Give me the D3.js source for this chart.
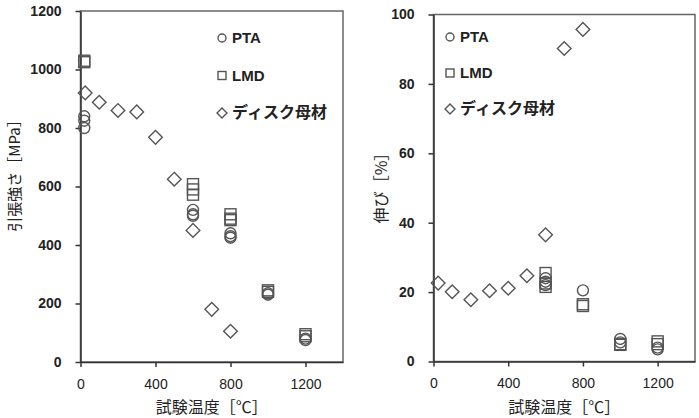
<!DOCTYPE html>
<html>
<head>
<meta charset="utf-8">
<script src="https://cdn.jsdelivr.net/npm/d3@7"></script>
<style>
  body { margin: 0; background: #fff; }
  .tick text { font-family: "Liberation Sans", Arial, sans-serif; fill: #222; }
  .label { font-family: "Noto Sans CJK JP", sans-serif; fill: #222; }
</style>
</head>
<body>
<script>
const width = 699;
const height = 418;

const xTicks = [0, 400, 800, 1200];
const strengthTicks = [0, 200, 400, 600, 800, 1000, 1200];
const elongTicks = [0, 20, 40, 60, 80, 100];

const seriesNames = ["PTA", "LMD", "ディスク母材"];

// 引張強さ [MPa]
const ptaStrength = [[20, 840], [20, 825], [20, 800], [600, 520], [600, 505], [600, 500],
  [800, 440], [800, 430], [800, 425], [1000, 235], [1000, 230], [1200, 80], [1200, 75]];
const lmdStrength = [[20, 1030], [20, 1025], [600, 608], [600, 590], [600, 572],
  [800, 505], [800, 490], [800, 485], [1000, 245], [1000, 240], [1200, 95], [1200, 88]];
const diskStrength = [[25, 920], [100, 888], [200, 860], [300, 855], [400, 768],
  [500, 625], [600, 450], [700, 180], [800, 105]];

// 伸び [%]
const ptaElong = [[600, 24], [600, 23], [600, 22], [800, 20.5], [1000, 6.5], [1000, 5.5],
  [1200, 4], [1200, 3.5]];
const lmdElong = [[600, 25.5], [600, 22.5], [600, 21.5], [800, 16.5], [800, 16],
  [1000, 5], [1000, 4.8], [1200, 5.8], [1200, 5]];
const diskElong = [[25, 22.6], [100, 20.1], [200, 17.8], [300, 20.4], [400, 21.1],
  [500, 24.7], [600, 36.5], [700, 90.2], [800, 95.7]];

const svg = d3.select("body").append("svg")
  .attr("width", width)
  .attr("height", height);

const markerStroke = "#555";

const drawMarker = (sel, type, size) => {
  if (type === 0) {
    sel.append("circle").attr("r", size / 2);
  } else if (type === 1) {
    sel.append("rect").attr("x", -size / 2).attr("y", -size / 2)
      .attr("width", size).attr("height", size);
  } else {
    const h = size * 0.62;
    sel.append("path").attr("d", `M0,${-h}L${h},0L0,${h}L${-h},0Z`);
  }
  sel.selectAll("circle, rect, path")
    .attr("fill", "none")
    .attr("stroke", markerStroke)
    .attr("stroke-width", 1.4);
};

const panel = (opts) => {
  const { left, right, top, bottom, yMax, yTicks, series, yLabel, yLabelX, yLabelY, yLabelSize, legendX, legendY, legendGap } = opts;
  const x = d3.scaleLinear().domain([0, 1400]).range([left, right]);
  const y = d3.scaleLinear().domain([0, yMax]).range([bottom, top]);

  // frame
  svg.append("rect")
    .attr("x", left).attr("y", top)
    .attr("width", right - left).attr("height", bottom - top)
    .attr("fill", "none").attr("stroke", "#666").attr("stroke-width", 1.5);

  const xAxisG = svg.append("g")
    .attr("transform", `translate(0,${bottom})`)
    .call(d3.axisBottom(x).tickValues(xTicks).tickFormat(d3.format("d"))
      .tickSize(5).tickSizeOuter(0).tickPadding(12));
  xAxisG.selectAll("text").style("font-size", "14px");

  const yAxisG = svg.append("g")
    .attr("transform", `translate(${left},0)`)
    .call(d3.axisLeft(y).tickValues(yTicks).tickFormat(d3.format("d"))
      .tickSize(5).tickSizeOuter(0).tickPadding(14));
  yAxisG.selectAll("text").style("font-size", "14px").style("font-weight", "bold");

  [xAxisG, yAxisG].forEach(a => {
    a.select(".domain").attr("stroke", "#333").attr("stroke-width", 1.5);
    a.selectAll(".tick line").attr("stroke", "#333").attr("stroke-width", 1.5);
  });

  // data markers
  series.forEach((data, i) => {
    svg.append("g").selectAll("g").data(data).join("g")
      .attr("transform", d => `translate(${x(d[0])},${y(d[1])})`)
      .each(function() { drawMarker(d3.select(this), i, 11); });
  });

  // legend
  seriesNames.forEach((name, i) => {
    const ly = legendY + i * legendGap;
    const g = svg.append("g").attr("transform", `translate(${legendX},${ly})`);
    drawMarker(g, i, 8);
    g.append("text")
      .attr("class", "label")
      .attr("x", 10).attr("y", 5)
      .style("font-size", i === 2 ? "16px" : "15px")
      .style("font-weight", "bold")
      .style("font-family", i === 2 ? "'Noto Sans CJK JP', sans-serif" : "'Liberation Sans', Arial, sans-serif")
      .text(name);
  });

  svg.append("text")
    .attr("class", "label")
    .attr("transform", `translate(${yLabelX},${yLabelY}) rotate(-90)`)
    .attr("text-anchor", "middle")
    .attr("dy", "0.35em")
    .style("font-size", yLabelSize)
    .text(yLabel);

  svg.append("text")
    .attr("class", "label")
    .attr("x", (left + right) / 2)
    .attr("y", 413)
    .attr("text-anchor", "middle")
    .style("font-size", "16px")
    .text("試験温度［℃］");
};

panel({
  left: 80.5, right: 343, top: 11, bottom: 362,
  yMax: 1200, yTicks: strengthTicks,
  series: [ptaStrength, lmdStrength, diskStrength],
  yLabel: "引張強さ［MPa］", yLabelX: 15, yLabelY: 172, yLabelSize: "15px",
  legendX: 222, legendY: 38, legendGap: 37.5
});

panel({
  left: 433.5, right: 695, top: 14.5, bottom: 361.5,
  yMax: 100, yTicks: elongTicks,
  series: [ptaElong, lmdElong, diskElong],
  yLabel: "伸び［%］", yLabelX: 381, yLabelY: 184, yLabelSize: "16px",
  legendX: 450, legendY: 37, legendGap: 36
});
</script>
</body>
</html>
